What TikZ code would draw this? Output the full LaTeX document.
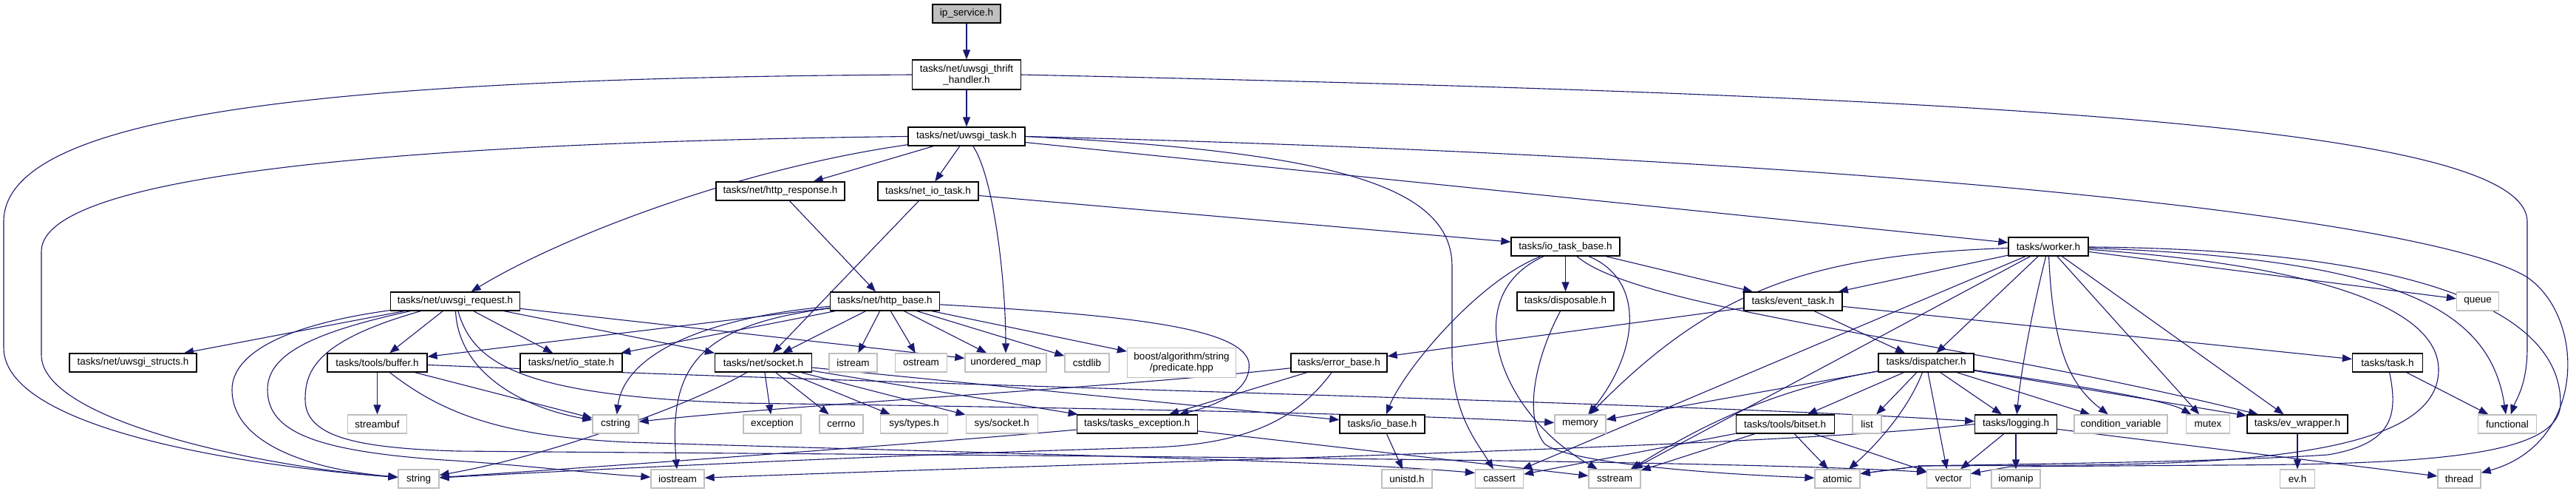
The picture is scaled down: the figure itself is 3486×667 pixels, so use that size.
\documentclass[tikz,border=0pt]{standalone}
\usepackage{fontspec}
\setmainfont{Liberation Sans}
\usetikzlibrary{arrows.meta,backgrounds}
\definecolor{edgec}{HTML}{191970}
\definecolor{grayb}{HTML}{BFBFBF}
\begin{document}
\begin{tikzpicture}[x=1pt,y=-1pt,
  every node/.style={font=\fontsize{13.5}{15}\selectfont, inner sep=0pt, minimum height=25pt},
  hdr/.style={draw=black, line width=1.3pt, fill=white, minimum width=#1},
  sys/.style={draw=grayb, line width=1.3pt, fill=white, minimum width=#1},
  root/.style={draw=black, line width=1.3pt, fill=grayb, minimum width=#1},
  edge/.style={draw=edgec, line width=1.1pt, -{Triangle[length=13pt,width=10pt]}}]
\useasboundingbox (0,0) rectangle (3486,667);
% row 0-4
\node[root=92] (ip) at (1308,18.5) {ip\_service.h};
\node[hdr=147, minimum height=40pt, align=center] (thrift) at (1308,101) {tasks/net/uwsgi\_thrift\\\_handler.h};
\node[hdr=158] (task) at (1308,184.5) {tasks/net/uwsgi\_task.h};
\node[hdr=174] (response) at (1056,258.5) {tasks/net/http\_response.h};
\node[hdr=136] (netio) at (1256,258.5) {tasks/net\_io\_task.h};
\node[hdr=147] (iotb) at (2118.5,333.5) {tasks/io\_task\_base.h};
\node[hdr=108] (worker) at (2772,333.5) {tasks/worker.h};
% row 5
\node[hdr=175] (request) at (616,407.5) {tasks/net/uwsgi\_request.h};
\node[hdr=148] (httpbase) at (1197.5,407.5) {tasks/net/http\_base.h};
\node[hdr=131] (disposable) at (2118.5,407.5) {tasks/disposable.h};
\node[hdr=133] (eventtask) at (2426.5,407.5) {tasks/event\_task.h};
\node[sys=57] (queue) at (3353,407.5) {queue};
% row 6
\node[hdr=172] (structs) at (180,490.5) {tasks/net/uwsgi\_structs.h};
\node[hdr=135] (buffer) at (510.5,490.5) {tasks/tools/buffer.h};
\node[hdr=138] (iostate) at (773,490.5) {tasks/net/io\_state.h};
\node[hdr=131] (socket) at (1033,490.5) {tasks/net/socket.h};
\node[sys=65] (istream) at (1154.5,490.5) {istream};
\node[sys=70] (ostream) at (1246.5,490.5) {ostream};
\node[sys=110] (umap) at (1361,490.5) {unordered\_map};
\node[sys=60] (cstdlib) at (1471,490.5) {cstdlib};
\node[sys=147, minimum height=40pt, align=center] (boost) at (1599,490.5) {boost/algorithm/string\\/predicate.hpp};
\node[hdr=130] (errorbase) at (1812,490.5) {tasks/error\_base.h};
\node[hdr=129] (dispatcher) at (2606.5,490.5) {tasks/dispatcher.h};
\node[hdr=95] (taskh) at (3231,490.5) {tasks/task.h};
% row 7
\node[sys=80] (streambuf) at (510.5,573.5) {streambuf};
\node[sys=62] (cstring) at (833,573.5) {cstring};
\node[sys=78] (exception) at (1045,573.5) {exception};
\node[sys=59] (cerrno) at (1138.5,573.5) {cerrno};
\node[sys=91] (systypes) at (1237,573.5) {sys/types.h};
\node[sys=97] (syssocket) at (1355.7,573.5) {sys/socket.h};
\node[hdr=163] (tasksexc) at (1538.7,573.5) {tasks/tasks\_exception.h};
\node[hdr=115] (iobase) at (1870.5,573.5) {tasks/io\_base.h};
\node[sys=69] (memory) at (2138.4,573.5) {memory};
\node[hdr=133] (bitset) at (2415.7,573.5) {tasks/tools/bitset.h};
\node[sys=39] (list) at (2526.5,573.5) {list};
\node[hdr=110.5] (logging) at (2728,573.5) {tasks/logging.h};
\node[sys=126] (condvar) at (2870,573.5) {condition\_variable};
\node[sys=59] (mutex) at (2988,573.5) {mutex};
\node[hdr=136] (evwrapper) at (3109,573.5) {tasks/ev\_wrapper.h};
\node[sys=79] (functional) at (3393,573.5) {functional};
% row 8
\node[sys=55] (string) at (566.6,647.5) {string};
\node[sys=72] (iostream) at (917,647.5) {iostream};
\node[sys=68] (unistd) at (1904,647.5) {unistd.h};
\node[sys=65] (cassert) at (2029,647.5) {cassert};
\node[sys=70] (sstream) at (2185,647.5) {sstream};
\node[sys=61] (atomic) at (2486.5,647.5) {atomic};
\node[sys=58.5] (vector) at (2637,647.5) {vector};
\node[sys=66] (iomanip) at (2728,647.5) {iomanip};
\node[sys=47] (evh) at (3109,647.5) {ev.h};
\node[sys=58] (thread) at (3328,647.5) {thread};

\begin{scope}[on background layer]
% top
\draw[edge] (ip) -- (thrift);
\draw[edge] (thrift) -- (task);
\draw[edge] (thrift.west) .. controls (400,106) and (5,160) .. (5,300) -- (5,470) .. controls (5,580) and (330,630) .. (string);
\draw[edge] (thrift.east) .. controls (2700,130) and (3420,170) .. (3420,300) -- (3420,470) .. controls (3420,520) and (3405,540) .. (functional);
% uwsgi_task
\draw[edge] (task.west) .. controls (600,192) and (56,230) .. (56,340) -- (56,480) .. controls (56,570) and (360,632) .. (string);
\draw[edge] (task) .. controls (1000,228) and (760,320) .. (request);
\draw[edge] (task) -- (response);
\draw[edge] (task) -- (netio);
\draw[edge] (task) .. controls (1345,240) and (1361,380) .. (umap);
\draw[edge] (task.east) .. controls (1800,205) and (1965,250) .. (1965,360) -- (1965,480) .. controls (1965,560) and (2000,600) .. (cassert);
\draw[edge] (task) -- (worker);
\draw[edge] (task.east) .. controls (2600,215) and (3300,300) .. (3420,375) .. controls (3500,430) and (3500,600) .. (thread);
% net_io_task, http_response
\draw[edge] (netio) -- (iotb);
\draw[edge] (netio) -- (socket);
\draw[edge] (response) -- (httpbase);
% uwsgi_request
\draw[edge] (request) -- (structs);
\draw[edge] (request) -- (buffer);
\draw[edge] (request) -- (iostate);
\draw[edge] (request) -- (socket);
\draw[edge] (request) -- (umap);
\draw[edge] (request) .. controls (620,500) and (700,550) .. (cstring);
\draw[edge] (request) .. controls (380,440) and (314,480) .. (314,527) .. controls (314,600) and (420,635) .. (string);
\draw[edge] (request) .. controls (420,450) and (362,480) .. (362,527) .. controls (362,585) and (430,610) .. (600,622) .. controls (700,628) and (800,640) .. (iostream);
\draw[edge] (request) .. controls (430,460) and (413,500) .. (413,540) .. controls (413,590) and (480,606) .. (620,610) .. controls (1200,615) and (2300,620) .. ([yshift=9pt]vector.west);
\draw[edge] (request) .. controls (640,490) and (700,535) .. (1000,545) .. controls (1500,552) and (1900,560) .. (memory);
% buffer
\draw[edge] (buffer) -- (streambuf);
\draw[edge] (buffer) -- (cstring);
\draw[edge] (buffer) .. controls (1200,520) and (2300,545) .. (logging);
\draw[edge] (buffer) .. controls (600,560) and (680,590) .. (850,598) .. controls (1300,612) and (1800,622) .. ([yshift=8pt]cassert.west);
% socket
\draw[edge] (socket) .. controls (940,545) and (750,615) .. (string);
\draw[edge] (socket) -- (exception);
\draw[edge] (socket) -- (cerrno);
\draw[edge] (socket) -- (systypes);
\draw[edge] (socket) -- (syssocket);
\draw[edge] (socket) -- (tasksexc);
\draw[edge] (socket) -- (iobase);
% http_base
\draw[edge] (httpbase) -- (buffer);
\draw[edge] (httpbase) -- (iostate);
\draw[edge] (httpbase) -- (socket);
\draw[edge] (httpbase) .. controls (950,430) and (845,480) .. (cstring);
\draw[edge] (httpbase) .. controls (940,440) and (905,500) .. (iostream);
\draw[edge] (httpbase) -- (istream);
\draw[edge] (httpbase) -- (ostream);
\draw[edge] (httpbase) -- (umap);
\draw[edge] (httpbase) -- (cstdlib);
\draw[edge] (httpbase) -- (boost);
\draw[edge] (httpbase) .. controls (1500,425) and (1680,440) .. (1690,490) .. controls (1695,530) and (1640,550) .. (tasksexc);
% tasks_exception, error_base, io_base
\draw[edge] (tasksexc) .. controls (1250,600) and (800,632) .. (string);
\draw[edge] (tasksexc) -- (sstream);
\draw[edge] (errorbase) .. controls (1500,525) and (1100,545) .. (cstring);
\draw[edge] (errorbase) -- (tasksexc);
\draw[edge] (errorbase) .. controls (1760,560) and (1700,600) .. (1560,605) .. controls (1200,615) and (800,635) .. (string);
\draw[edge] (iobase) -- (unistd);
% io_task_base
\draw[edge] (iotb) .. controls (2000,380) and (1900,500) .. (iobase);
\draw[edge] (iotb) .. controls (1970,400) and (2030,560) .. (sstream);
\draw[edge] (iotb) -- (disposable);
\draw[edge] (iotb) .. controls (2230,380) and (2215,480) .. (memory);
\draw[edge] (iotb) .. controls (2220,420) and (2650,460) .. (evwrapper);
\draw[edge] (iotb) -- (eventtask);
\draw[edge] (disposable) .. controls (2080,480) and (2060,560) .. (2090,600) .. controls (2120,625) and (2300,640) .. (atomic);
% worker
\draw[edge] (worker) -- (eventtask);
\draw[edge] (worker) -- (dispatcher);
\draw[edge] (worker) .. controls (2750,420) and (2735,500) .. (logging);
\draw[edge] (worker) .. controls (2778,470) and (2800,520) .. (condvar);
\draw[edge] (worker) -- (mutex);
\draw[edge] (worker) -- (evwrapper);
\draw[edge] (worker) -- (queue);
\draw[edge] (worker) .. controls (3250,350) and (3370,420) .. (functional);
\draw[edge] (worker) .. controls (2450,345) and (2320,390) .. (memory);
\draw[edge] (worker) -- (cassert);
\draw[edge] (worker) -- (sstream);
\draw[edge] (worker) .. controls (3300,338) and (3465,430) .. (3465,545) .. controls (3465,615) and (3300,628) .. (3000,629) -- (2720,631) -- ([yshift=7pt]vector.east);
\draw[edge] (worker) .. controls (3150,360) and (3300,420) .. (3300,500) .. controls (3300,600) and (3100,627) .. (2800,629) -- (2600,630) -- ([yshift=7pt]atomic.east);
% event_task
\draw[edge] (eventtask) -- (errorbase);
\draw[edge] (eventtask) -- (dispatcher);
\draw[edge] (eventtask) -- (taskh);
% task.h
\draw[edge] (taskh) -- (functional);
\draw[edge] (taskh) .. controls (3245,560) and (3240,600) .. (3150,615) .. controls (3000,625) and (2700,628) .. (2600,630) -- ([yshift=7pt]atomic.east);
% dispatcher
\draw[edge] (dispatcher) -- (bitset);
\draw[edge] (dispatcher) -- (list);
\draw[edge] (dispatcher) .. controls (2580,560) and (2530,610) .. (atomic);
\draw[edge] (dispatcher) -- (vector);
\draw[edge] (dispatcher) -- (logging);
\draw[edge] (dispatcher) -- (condvar);
\draw[edge] (dispatcher) .. controls (2800,520) and (2930,540) .. (mutex);
\draw[edge] (dispatcher) -- (evwrapper);
\draw[edge] (dispatcher) -- (memory);
\draw[edge] (dispatcher) .. controls (2380,530) and (2280,590) .. (sstream);
% bitset
\draw[edge] (bitset) -- (atomic);
\draw[edge] (bitset) -- (vector);
\draw[edge] (bitset) -- (cassert);
\draw[edge] (bitset) -- (sstream);
% logging
\draw[edge] (logging) -- (vector);
\draw[edge] (logging) -- (iomanip);
\draw[edge] (logging.west) .. controls (2400,605) and (1500,625) .. (iostream);
\draw[edge] (logging) -- (thread);
% ev_wrapper
\draw[edge] (evwrapper) -- (evh);
\end{scope}
\end{tikzpicture}
\end{document}
